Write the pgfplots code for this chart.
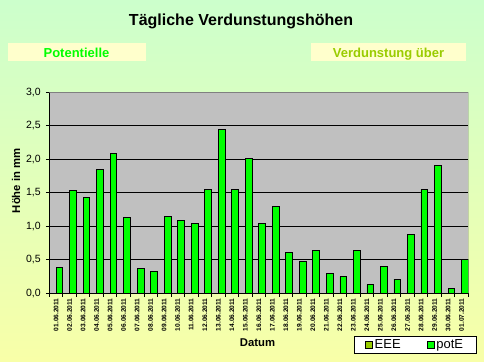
\documentclass[border=0pt]{standalone}
\usepackage{fontspec}
\setmainfont{Liberation Sans}
\usepackage{pgfplots}
\pgfplotsset{compat=1.18}
\definecolor{bgtop}{RGB}{204,255,204}
\definecolor{bgbot}{RGB}{248,255,168}
\definecolor{plotbg}{RGB}{192,192,192}
\definecolor{barg}{RGB}{0,255,0}
\definecolor{eeec}{RGB}{153,204,0}
\definecolor{boxc}{RGB}{255,255,204}
\definecolor{frameg}{RGB}{128,128,128}
\pgfplotsset{sqlegend/.style={legend image code/.code={\draw[##1,draw=black,line width=0.6pt] (0pt,-3.5pt) rectangle (7pt,3.5pt);}}}
\begin{document}
\begin{tikzpicture}[x=1pt,y=1pt]
\shade[top color=bgtop,bottom color=bgbot] (0,0) rectangle (484,361);
\useasboundingbox (0,0) rectangle (484,361);
\node[font=\bfseries\fontsize{16}{16}\selectfont, anchor=base, inner sep=0pt] at (241,335) {Tägliche Verdunstungshöhen};
\fill[boxc] (8,300) rectangle (146,318);
\node[font=\bfseries\fontsize{13}{13}\selectfont, text=barg, anchor=base, inner sep=0pt] at (76.5,303.7) {Potentielle};
\fill[boxc] (311,300) rectangle (465.7,318);
\node[font=\bfseries\fontsize{13}{13}\selectfont, text=eeec, anchor=base, inner sep=0pt] at (388.5,303.7) {Verdunstung über};
\begin{axis}[
  at={(49.3pt,67.7pt)}, anchor=south west,
  scale only axis, width=419pt, height=201pt,
  xmin=0.5, xmax=31.5, ymin=0, ymax=3,
  axis background/.style={fill=plotbg},
  axis lines=left, axis line style={-, black, line width=0.8pt},
  ytick={0,0.5,...,3},
  yticklabel style={font=\fontsize{10.5}{10.5}\selectfont, inner sep=0pt},
  y tick label style={/pgf/number format/fixed, /pgf/number format/fixed zerofill, /pgf/number format/precision=1, /pgf/number format/use comma},
  /pgf/number format/assume math mode=true,
  yticklabel shift=5pt,
  ymajorgrids, grid style={black, line width=0.8pt},
  tick align=outside, major tick length=3.5pt, minor tick length=3.5pt,
  tick style={black, line width=0.8pt},
  xtick={1,...,31},
  major x tick style={draw=none},
  minor xtick={0.5,1.5,...,31.5},
  xticklabels={01.06.2011,02.06.2011,03.06.2011,04.06.2011,05.06.2011,06.06.2011,07.06.2011,08.06.2011,09.06.2011,10.06.2011,11.06.2011,12.06.2011,13.06.2011,14.06.2011,15.06.2011,16.06.2011,17.06.2011,18.06.2011,19.06.2011,20.06.2011,21.06.2011,22.06.2011,23.06.2011,24.06.2011,25.06.2011,26.06.2011,27.06.2011,28.06.2011,29.06.2011,30.06.2011,01.07.2011},
  xticklabel style={rotate=90, anchor=east, inner sep=0pt, font=\bfseries\fontsize{6.6}{6.6}\selectfont},
  xticklabel shift=1.5pt,
  xlabel={Datum},
  xlabel style={at={(axis description cs:0.497,-0.246)}, anchor=center, inner sep=0pt, font=\bfseries\fontsize{11.3}{11.3}\selectfont},
  ylabel={Höhe in mm},
  ylabel style={at={(axis description cs:-0.0795,0.560)}, anchor=center, inner sep=0pt, font=\bfseries\fontsize{11.3}{11.3}\selectfont},
  legend style={at={(axis description cs:0.873,-0.256)}, anchor=center, draw=black, fill=white, line width=0.8pt,
    font=\fontsize{13}{13}\selectfont, inner xsep=11pt, inner ysep=1.5pt,
    /tikz/every even column/.append style={column sep=24pt}},
  legend columns=2,
]
\addlegendimage{sqlegend, fill=eeec}
\addlegendentry{EEE}
\addplot[ybar, bar width=0.5, bar shift=0.25, fill=barg, draw=black, line width=0.8pt, sqlegend] coordinates {
(1,0.39) (2,1.54) (3,1.43) (4,1.85) (5,2.09) (6,1.13) (7,0.37) (8,0.33) (9,1.15) (10,1.09)
(11,1.04) (12,1.55) (13,2.45) (14,1.55) (15,2.01) (16,1.04) (17,1.30) (18,0.61) (19,0.48) (20,0.64)
(21,0.30) (22,0.25) (23,0.64) (24,0.13) (25,0.40) (26,0.21) (27,0.88) (28,1.55) (29,1.91) (30,0.07) (31,0.51)};
\addlegendentry{potE}
\draw[frameg, line width=0.8pt] (rel axis cs:0,1) -- (rel axis cs:1,1) -- (rel axis cs:1,0);
\end{axis}
\end{tikzpicture}
\end{document}
